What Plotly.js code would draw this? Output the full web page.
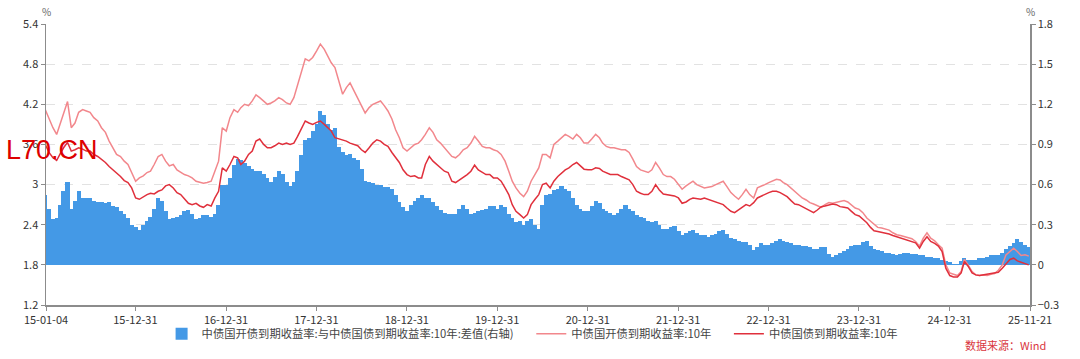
<!DOCTYPE html>
<html>
<head>
<meta charset="utf-8">
<script src="https://cdn.plot.ly/plotly-3.0.1.min.js"></script>
<style>html,body{margin:0;padding:0;background:#fff;}#chart{width:1080px;height:359px;}</style>
</head>
<body>
<div id="chart"></div>
<script>
// Semi-monthly observation dates (1st and 16th of each month), 2015-01 .. 2025-11
const dates = [];
for (let y = 2015; y <= 2025; y++) {
  for (let m = 1; m <= 12; m++) {
    if (y === 2025 && m > 11) break;
    const mm = (m < 10 ? '0' : '') + m;
    dates.push(y + '-' + mm + '-01');
    dates.push(y + '-' + mm + '-16');
  }
}

// 中债国开债到期收益率:10年 (%)
const cdb10y = [
  4.12,3.98,3.85,3.75,3.9,4.05,4.24,3.85,3.92,4.08,4.12,4.1,4.08,4.0,3.95,3.85,3.78,3.65,3.55,3.45,3.42,3.35,3.3,3.18,
  3.05,3.1,3.13,3.18,3.2,3.3,3.42,3.45,3.35,3.28,3.3,3.22,3.18,3.15,3.13,3.1,3.05,3.03,3.02,3.03,3.05,3.2,3.35,3.85,
  3.8,4.0,4.12,4.08,4.15,4.2,4.18,4.25,4.34,4.3,4.25,4.2,4.22,4.25,4.3,4.27,4.22,4.2,4.3,4.5,4.7,4.88,4.85,4.9,
  5.0,5.1,5.02,4.9,4.82,4.75,4.55,4.35,4.45,4.52,4.4,4.3,4.18,4.07,4.15,4.2,4.22,4.25,4.18,4.1,3.98,3.82,3.7,3.55,
  3.5,3.55,3.6,3.62,3.67,3.75,3.85,3.78,3.67,3.62,3.55,3.5,3.42,3.4,3.45,3.52,3.55,3.62,3.72,3.65,3.57,3.55,3.55,3.52,
  3.5,3.45,3.35,3.2,3.05,2.95,2.87,2.82,2.9,3.05,3.15,3.25,3.45,3.45,3.4,3.6,3.65,3.7,3.75,3.72,3.68,3.75,3.7,3.62,
  3.62,3.68,3.75,3.7,3.62,3.57,3.55,3.55,3.53,3.52,3.52,3.48,3.38,3.27,3.22,3.2,3.18,3.22,3.33,3.25,3.15,3.12,3.12,3.08,
  3.0,2.93,2.98,3.02,3.05,3.0,2.97,2.95,2.96,2.97,3.0,3.02,3.05,2.97,2.88,2.83,2.78,2.85,2.93,2.85,2.8,2.95,2.97,3.0,
  3.03,3.05,3.08,3.07,3.03,3.0,2.95,2.9,2.85,2.8,2.77,2.73,2.71,2.68,2.66,2.7,2.73,2.72,2.73,2.74,2.76,2.74,2.7,2.65,
  2.63,2.58,2.5,2.45,2.4,2.36,2.35,2.33,2.32,2.28,2.25,2.24,2.22,2.2,2.19,2.15,2.08,2.2,2.28,2.2,2.16,2.1,2.05,1.8,
  1.68,1.66,1.64,1.7,1.88,1.8,1.7,1.65,1.64,1.65,1.64,1.66,1.67,1.72,1.8,1.95,2.0,2.05,2.0,1.94,1.95,1.93
];

// 中债国债到期收益率:10年 (%)
const cgb10y = [
  3.6,3.48,3.4,3.36,3.45,3.55,3.63,3.5,3.52,3.55,3.53,3.5,3.5,3.45,3.42,3.38,3.33,3.27,3.22,3.18,3.12,3.06,3.03,2.95,
  2.8,2.78,2.82,2.85,2.87,2.86,2.9,2.92,2.98,3.0,2.95,2.88,2.85,2.78,2.72,2.7,2.72,2.68,2.66,2.7,2.68,2.8,2.9,3.25,
  3.2,3.3,3.42,3.4,3.3,3.35,3.45,3.5,3.65,3.68,3.6,3.55,3.55,3.58,3.62,3.6,3.62,3.6,3.62,3.72,3.85,3.95,3.92,3.9,
  3.93,3.95,3.9,3.85,3.8,3.7,3.68,3.67,3.65,3.62,3.6,3.58,3.52,3.48,3.55,3.62,3.67,3.65,3.6,3.57,3.48,3.4,3.33,3.22,
  3.15,3.12,3.13,3.1,3.1,3.3,3.42,3.35,3.3,3.25,3.2,3.18,3.05,3.03,3.07,3.1,3.15,3.2,3.29,3.22,3.18,3.15,3.15,3.1,
  3.1,3.05,2.95,2.85,2.7,2.6,2.55,2.5,2.55,2.7,2.78,2.85,3.0,3.02,2.95,3.05,3.12,3.17,3.22,3.25,3.3,3.33,3.28,3.23,
  3.22,3.22,3.25,3.24,3.2,3.18,3.15,3.15,3.15,3.12,3.1,3.07,3.0,2.9,2.87,2.85,2.85,2.9,3.0,2.92,2.86,2.85,2.85,2.83,
  2.8,2.72,2.74,2.78,2.8,2.79,2.78,2.8,2.78,2.76,2.75,2.73,2.7,2.65,2.6,2.58,2.62,2.67,2.7,2.68,2.73,2.8,2.83,2.86,
  2.88,2.9,2.9,2.88,2.85,2.82,2.76,2.71,2.7,2.67,2.64,2.6,2.58,2.62,2.67,2.68,2.7,2.71,2.7,2.67,2.66,2.65,2.6,2.55,
  2.53,2.48,2.43,2.36,2.31,2.3,2.29,2.28,2.26,2.24,2.22,2.2,2.19,2.17,2.15,2.13,2.05,2.15,2.22,2.15,2.12,2.08,2.0,1.75,
  1.64,1.62,1.62,1.68,1.85,1.78,1.68,1.65,1.64,1.65,1.66,1.67,1.68,1.69,1.75,1.82,1.88,1.9,1.86,1.84,1.82,1.8
];

// 中债国开债到期收益率:与中债国债到期收益率:10年:差值 (右轴, %)
const spread = [
  0.52,0.42,0.34,0.35,0.45,0.55,0.62,0.42,0.48,0.55,0.5,0.5,0.5,0.48,0.47,0.47,0.46,0.47,0.44,0.43,0.4,0.38,0.35,0.3,
  0.28,0.26,0.3,0.33,0.36,0.42,0.5,0.48,0.4,0.34,0.35,0.36,0.37,0.4,0.41,0.38,0.34,0.35,0.37,0.37,0.36,0.38,0.45,0.6,
  0.6,0.65,0.75,0.79,0.78,0.76,0.74,0.72,0.7,0.7,0.68,0.65,0.62,0.66,0.7,0.68,0.62,0.59,0.62,0.7,0.82,0.93,0.95,1.0,
  1.05,1.15,1.12,1.05,1.01,1.02,0.88,0.84,0.82,0.83,0.8,0.78,0.72,0.63,0.62,0.61,0.6,0.6,0.58,0.58,0.57,0.52,0.47,0.43,
  0.4,0.45,0.48,0.5,0.52,0.5,0.5,0.47,0.44,0.41,0.39,0.38,0.38,0.38,0.42,0.45,0.42,0.38,0.39,0.4,0.41,0.42,0.44,0.44,
  0.42,0.45,0.43,0.38,0.35,0.32,0.33,0.3,0.33,0.34,0.3,0.27,0.45,0.52,0.53,0.56,0.57,0.59,0.57,0.55,0.5,0.45,0.42,0.4,
  0.4,0.44,0.48,0.46,0.42,0.4,0.39,0.37,0.39,0.42,0.45,0.42,0.4,0.37,0.36,0.35,0.33,0.32,0.33,0.3,0.27,0.27,0.28,0.29,
  0.25,0.22,0.24,0.25,0.26,0.24,0.22,0.22,0.21,0.22,0.23,0.25,0.26,0.23,0.2,0.19,0.18,0.17,0.17,0.15,0.11,0.13,0.16,0.15,
  0.15,0.16,0.18,0.19,0.18,0.17,0.16,0.15,0.15,0.14,0.14,0.13,0.12,0.12,0.13,0.13,0.08,0.06,0.07,0.09,0.1,0.12,0.14,0.15,
  0.15,0.17,0.18,0.14,0.12,0.11,0.1,0.09,0.09,0.08,0.07,0.08,0.09,0.09,0.08,0.08,0.07,0.07,0.06,0.06,0.05,0.05,0.04,0.03,
  0.02,0.01,0.01,0.03,0.05,0.04,0.04,0.04,0.05,0.05,0.06,0.07,0.07,0.07,0.09,0.12,0.14,0.16,0.19,0.17,0.15,0.13
];

const tickDates = ['2015-01-04','2015-12-31','2016-12-31','2017-12-31','2018-12-31','2019-12-31',
                   '2020-12-31','2021-12-31','2022-12-31','2023-12-31','2024-12-31','2025-11-21'];
const tickLabels = ['15-01-04','15-12-31','16-12-31','17-12-31','18-12-31','19-12-31',
                    '20-12-31','21-12-31','22-12-31','23-12-31','24-12-31','25-11-21'];

const seriesNames = ['中债国开债到期收益率:与中债国债到期收益率:10年:差值(右轴)',
                     '中债国开债到期收益率:10年', '中债国债到期收益率:10年'];

const FONT = '"Noto Sans CJK SC", "Noto Sans", sans-serif';
const DAY = 86400000;
const PAD = '\u00a0\u00a0\u00a0\u00a0\u00a0';

const traces = [
  {type:'bar', x:dates, y:spread, name:seriesNames[0] + PAD, yaxis:'y',
   width:17 * DAY,
   marker:{color:'#4499e6', line:{width:0}}, hoverinfo:'x+y'},
  {type:'scatter', mode:'lines', x:dates, y:cdb10y, name:seriesNames[1] + PAD, yaxis:'y2',
   line:{color:'#f2878c', width:1.5}},
  {type:'scatter', mode:'lines', x:dates, y:cgb10y, name:seriesNames[2], yaxis:'y2',
   line:{color:'#e0303c', width:1.5}}
];

const axisCommon = {
  showline:true, linecolor:'#8c8c8c', linewidth:1.5,
  ticks:'outside', ticklen:4, tickcolor:'#8c8c8c',
  tickfont:{family:FONT, size:11, color:'#333'}, zeroline:false, fixedrange:true
};

const layout = {
  width:1080, height:359,
  margin:{l:46, r:50, t:24, b:53, pad:0},
  paper_bgcolor:'#fff', plot_bgcolor:'#fff',
  font:{family:FONT, size:11, color:'#333'},
  bargap:0, showlegend:true,
  legend:{orientation:'h', x:0.494, xanchor:'center', y:-0.098, yanchor:'middle',
          bgcolor:'rgba(0,0,0,0)',
          font:{family:FONT, size:11.3, color:'#444'}, itemwidth:30, traceorder:'normal'},
  xaxis:Object.assign({}, axisCommon, {
    type:'date', range:['2015-01-04','2025-11-21'],
    tickmode:'array', tickvals:tickDates, ticktext:tickLabels, showgrid:false
  }),
  yaxis:Object.assign({}, axisCommon, {
    side:'right', range:[-0.3,1.8], tickmode:'linear', tick0:-0.3, dtick:0.3,
    showgrid:true, gridcolor:'#e2e2e2', griddash:'dash', gridwidth:1
  }),
  yaxis2:Object.assign({}, axisCommon, {
    side:'left', overlaying:'y', range:[1.2,5.4], tickmode:'linear', tick0:1.2, dtick:0.6,
    showgrid:false
  }),
  annotations:[
    {text:'%', xref:'paper', yref:'paper', x:0, y:1.043, xanchor:'center', yanchor:'middle',
     showarrow:false, font:{family:FONT, size:10, color:'#666'}},
    {text:'%', xref:'paper', yref:'paper', x:1, y:1.043, xanchor:'center', yanchor:'middle',
     showarrow:false, font:{family:FONT, size:10, color:'#666'}},
    {text:'数据来源：Wind', xref:'paper', yref:'paper', x:0.9746, y:-0.142, xanchor:'center', yanchor:'middle',
     showarrow:false, font:{family:FONT, size:11, color:'#d9363e'}},
    {text:'L70.CN', xref:'paper', yref:'paper', x:-0.0427, y:0.553, xanchor:'left', yanchor:'middle',
     showarrow:false, font:{family:'"Liberation Sans", Arial, sans-serif', size:27, color:'#dd0000'}}
  ]
};

Plotly.newPlot('chart', traces, layout, {displayModeBar:false, staticPlot:true});
</script>
</body>
</html>
